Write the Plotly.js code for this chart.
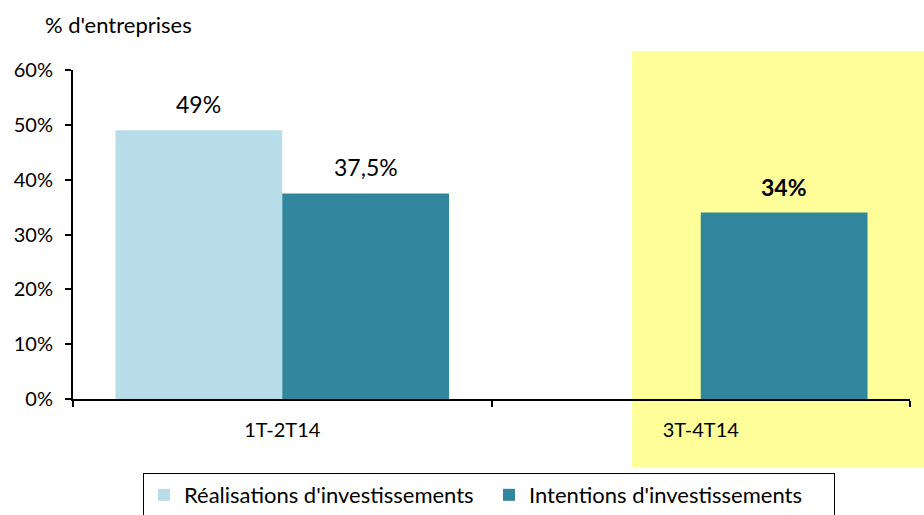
<!DOCTYPE html>
<html>
<head>
<meta charset="utf-8">
<script src="https://cdn.plot.ly/plotly-3.0.1.min.js"></script>
<style>html,body{margin:0;padding:0;background:#fff;}#chart{width:924px;height:515px;}</style>
</head>
<body>
<div id="chart"></div>
<script>
var categories = ['1T-2T14', '3T-4T14'];
var realisations = [49, null];
var intentions = [37.5, 34];
var seriesNames = ["Réalisations d'investissements", "Intentions d'investissements"];
var yTicks = [0, 10, 20, 30, 40, 50, 60];
var yTickLabels = ['0%', '10%', '20%', '30%', '40%', '50%', '60%'];
var yTitle = "% d'entreprises";
var highlighted = [false, true];

var FONT = 'Lato, "Noto Sans", sans-serif';

function fmt(v) { return String(v).replace('.', ',') + '%'; }

var traces = [
  { type: 'bar', x: categories, y: realisations, name: seriesNames[0],
    marker: { color: '#b7dde8' }, hoverinfo: 'none' },
  { type: 'bar', x: categories, y: intentions, name: seriesNames[1],
    marker: { color: '#31859c' }, hoverinfo: 'none' }
];

var annotations = [];
var series = [realisations, intentions];
var shifts = [-83.5, 83.5];
series.forEach(function (s, si) {
  s.forEach(function (v, i) {
    if (v === null) return;
    var txt = highlighted[i] ? '<b>' + fmt(v) + '</b>' : fmt(v);
    annotations.push({ x: categories[i], y: v, xref: 'x', yref: 'y', text: txt,
      showarrow: false, xanchor: 'center', yanchor: 'bottom', xshift: shifts[si], yshift: 10,
      font: { family: FONT, size: 23, color: '#000' } });
  });
});
annotations.push({ xref: 'paper', yref: 'paper', x: -0.0358, y: 1.137, xanchor: 'left', yanchor: 'middle',
  text: yTitle, showarrow: false, font: { family: FONT, size: 22, color: '#000' } });

var layout = {
  width: 924, height: 515,
  margin: { l: 73, r: 14, t: 70, b: 116, autoexpand: false },
  paper_bgcolor: '#fff', plot_bgcolor: 'rgba(0,0,0,0)',
  font: { family: FONT, size: 20, color: '#000' },
  barmode: 'group', bargap: 0.203, bargroupgap: 0,
  showlegend: true,
  legend: { orientation: 'h', x: 0.497, xanchor: 'center', y: -0.225, yanchor: 'top',
    bordercolor: '#000', borderwidth: 1, font: { family: FONT, size: 22, color: '#000' },
    traceorder: 'normal', itemwidth: 30, entrywidth: 300, entrywidthmode: 'pixels' },
  xaxis: { type: 'category', showline: true, linecolor: '#000', linewidth: 2,
    ticks: 'outside', tickson: 'boundaries', ticklen: 6, tickwidth: 2, tickcolor: '#000',
    showgrid: false, zeroline: false, ticklabelstandoff: 12,
    tickfont: { family: FONT, size: 20, color: '#000' } },
  yaxis: { range: [0, 60], tickvals: yTicks, ticktext: yTickLabels, showline: true, linecolor: '#000',
    linewidth: 2, ticks: 'outside', ticklen: 6, tickwidth: 2, tickcolor: '#000', showgrid: false,
    zeroline: false, ticklabelstandoff: 8, fixedrange: true,
    tickfont: { family: FONT, size: 20, color: '#000' } },
  shapes: [
    { type: 'rect', xref: 'paper', yref: 'paper', x0: 0.668, x1: 1.017, y0: -0.207, y1: 1.058,
      fillcolor: '#ffff99', line: { width: 0 }, layer: 'below' }
  ],
  annotations: annotations
};

Plotly.newPlot('chart', traces, layout, { displayModeBar: false, staticPlot: true });
</script>
</body>
</html>
